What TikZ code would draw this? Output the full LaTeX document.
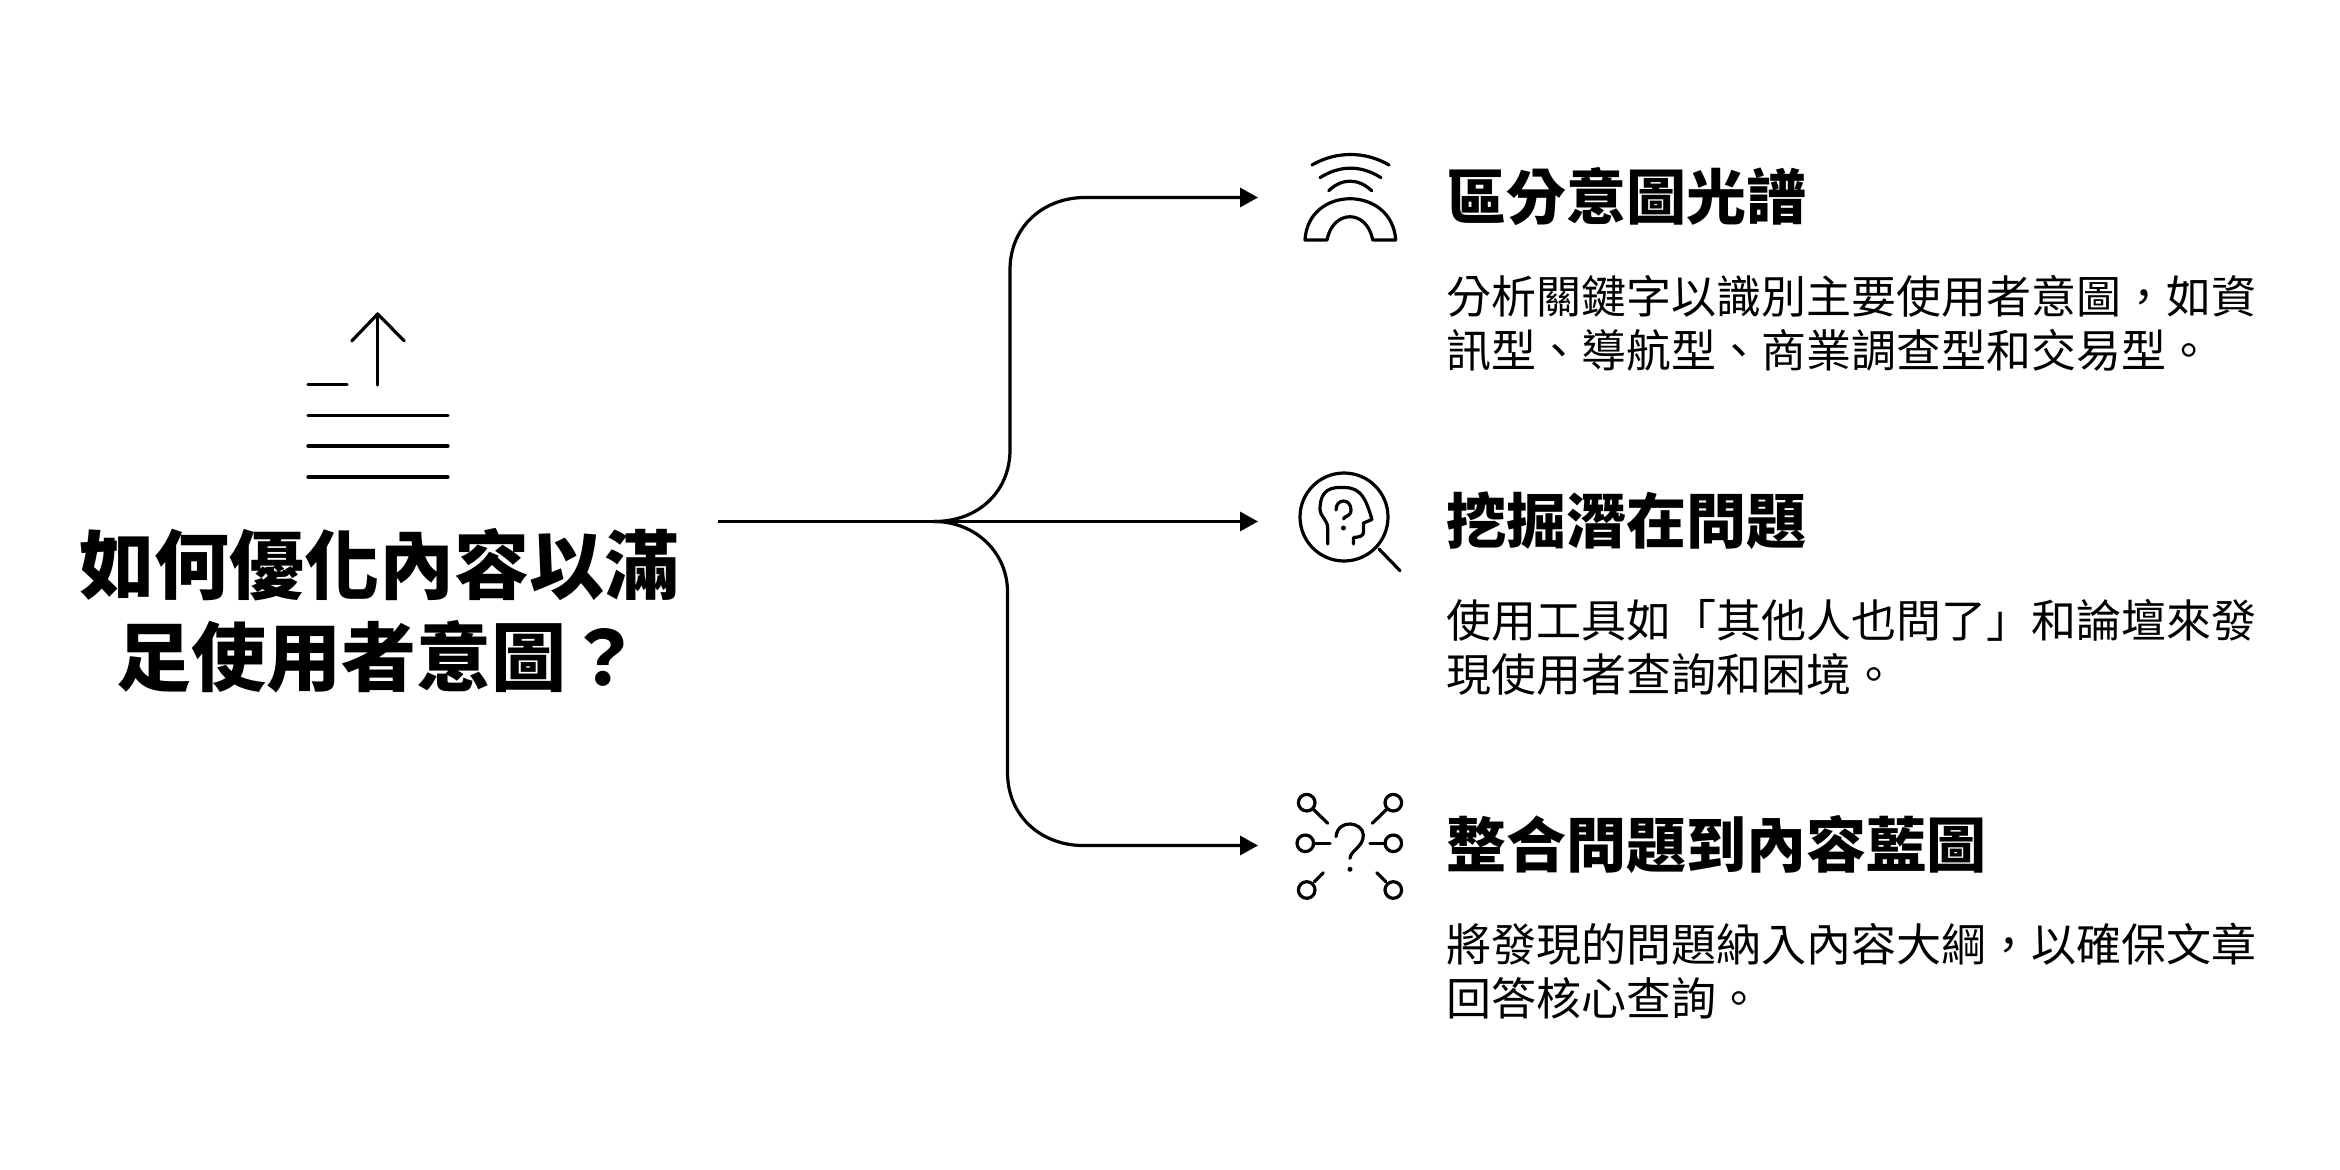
\documentclass[tikz,border=0pt]{standalone}
\usepackage{fontspec}
\setmainfont{Noto Sans CJK TC}
\usetikzlibrary{arrows.meta}
\tikzset{
  conn/.style={line width=1.6pt,black},
  arrowconn/.style={conn,-{Triangle[length=9pt,width=9.5pt]}},
  icon/.style={line width=1.6pt,black,line cap=round,line join=round},
  titletext/.style={inner sep=0,align=center,font=\bfseries\fontsize{37.5pt}{46pt}\selectfont},
  headtext/.style={inner sep=0,anchor=west,font=\bfseries\fontsize{30pt}{36pt}\selectfont},
  bodytext/.style={inner sep=0,anchor=north west,align=left,font=\fontsize{22.5pt}{26.9pt}\selectfont},
}
\begin{document}
\begin{tikzpicture}[x=0.5pt,y=-0.5pt]
\useasboundingbox (0,0) rectangle (2340,1170);
% title icon
\draw[icon] (377.7,385) -- (377.7,314);
\draw[icon] (351.7,341) -- (377.7,314) -- (404.3,341);
\draw[icon] (308,384.5) -- (347,384.5);
\draw[icon] (308,415.5) -- (448,415.5);
\draw[icon] (308,446) -- (448,446);
\draw[icon] (308,477) -- (448,477);
\node[titletext] (title) at (379,610.5) {如何優化內容以滿\\足使用者意圖？};
% connectors
\coordinate (start) at (718,521.5);
\coordinate (junction) at (934,521.5);
\coordinate (tipa) at (1258,197.5);
\coordinate (tipb) at (1258,521.5);
\coordinate (tipc) at (1258,845.5);
\draw[conn] (start) -- (junction);
\draw[arrowconn] (junction) -- (tipb);
\draw[arrowconn] (junction) .. controls (980,521.5) and (1010,490) .. (1010,450) -- (1010,270) .. controls (1010,225) and (1045,197.5) .. (1085,197.5) -- (tipa);
\draw[arrowconn] (junction) .. controls (975,521.5) and (1007.5,552) .. (1007.5,592) -- (1007.5,772) .. controls (1007.5,818) and (1043,845.5) .. (1083,845.5) -- (tipc);
% icon 1
\draw[icon] (1312,165) .. controls (1336,151) and (1365,151) .. (1389,165);
\draw[icon] (1320,177.7) .. controls (1340,165) and (1361,165) .. (1381,177.7);
\draw[icon] (1328.7,190.7) .. controls (1342,178) and (1358,178) .. (1371.7,190.7);
\draw[icon] (1305,240) .. controls (1308,185) and (1392,185) .. (1395.7,240) -- (1372.7,240) .. controls (1367,209) and (1333,209) .. (1327,240) -- cycle;
% icon 2
\draw[icon] (1344,517) circle (44);
\draw[icon] (1379,549) -- (1400,570.7);
\draw[icon] (1327.7,544) -- (1327.7,528) .. controls (1327.7,520) and (1320,516) .. (1320,510) .. controls (1320,488) and (1332,487) .. (1345,487.5) .. controls (1362,488) and (1366,500) .. (1372,519.5) -- (1363.5,523) -- (1363.5,532) .. controls (1363.5,536) and (1360,537) .. (1353.5,537.5) -- (1353.5,544);
\draw[icon] (1336,510) .. controls (1336,498) and (1351,498) .. (1351,510) .. controls (1351,517) and (1343.5,516) .. (1343.5,519);
\fill (1343.5,528) circle (2.5);
% icon 3
\foreach \cx/\cy in {1306.7/802.7,1393.3/802.7,1305.3/843.3,1393.3/843.3,1306.7/890,1393.3/890}
  \draw[icon] (\cx,\cy) circle (8.3);
\draw[icon] (1313.3,809.3) -- (1327.7,823.3);
\draw[icon] (1386.7,809.3) -- (1372.3,823.3);
\draw[icon] (1313.3,843.3) -- (1330,843.3);
\draw[icon] (1385.3,843.3) -- (1370,843.3);
\draw[icon] (1314.3,881.7) -- (1323.3,872.7);
\draw[icon] (1385.7,881.7) -- (1376.7,872.7);
\draw[icon] (1336,836.7) .. controls (1338,818) and (1363,822) .. (1363.3,835) .. controls (1363.5,847) and (1350,851) .. (1350,858.3);
\fill (1350,869.3) circle (2.5);
% texts
\node[headtext] (ha) at (1446.5,197) {區分意圖光譜};
\node[bodytext] (ba) at (1446.5,275) {分析關鍵字以識別主要使用者意圖，如資\\訊型、導航型、商業調查型和交易型。};
\node[headtext] (hb) at (1446.5,521) {挖掘潛在問題};
\node[bodytext] (bb) at (1446.5,599) {使用工具如「其他人也問了」和論壇來發\\現使用者查詢和困境。};
\node[headtext] (hc) at (1446.5,845) {整合問題到內容藍圖};
\node[bodytext] (bc) at (1446.5,923) {將發現的問題納入內容大綱，以確保文章\\回答核心查詢。};
\end{tikzpicture}
\end{document}
